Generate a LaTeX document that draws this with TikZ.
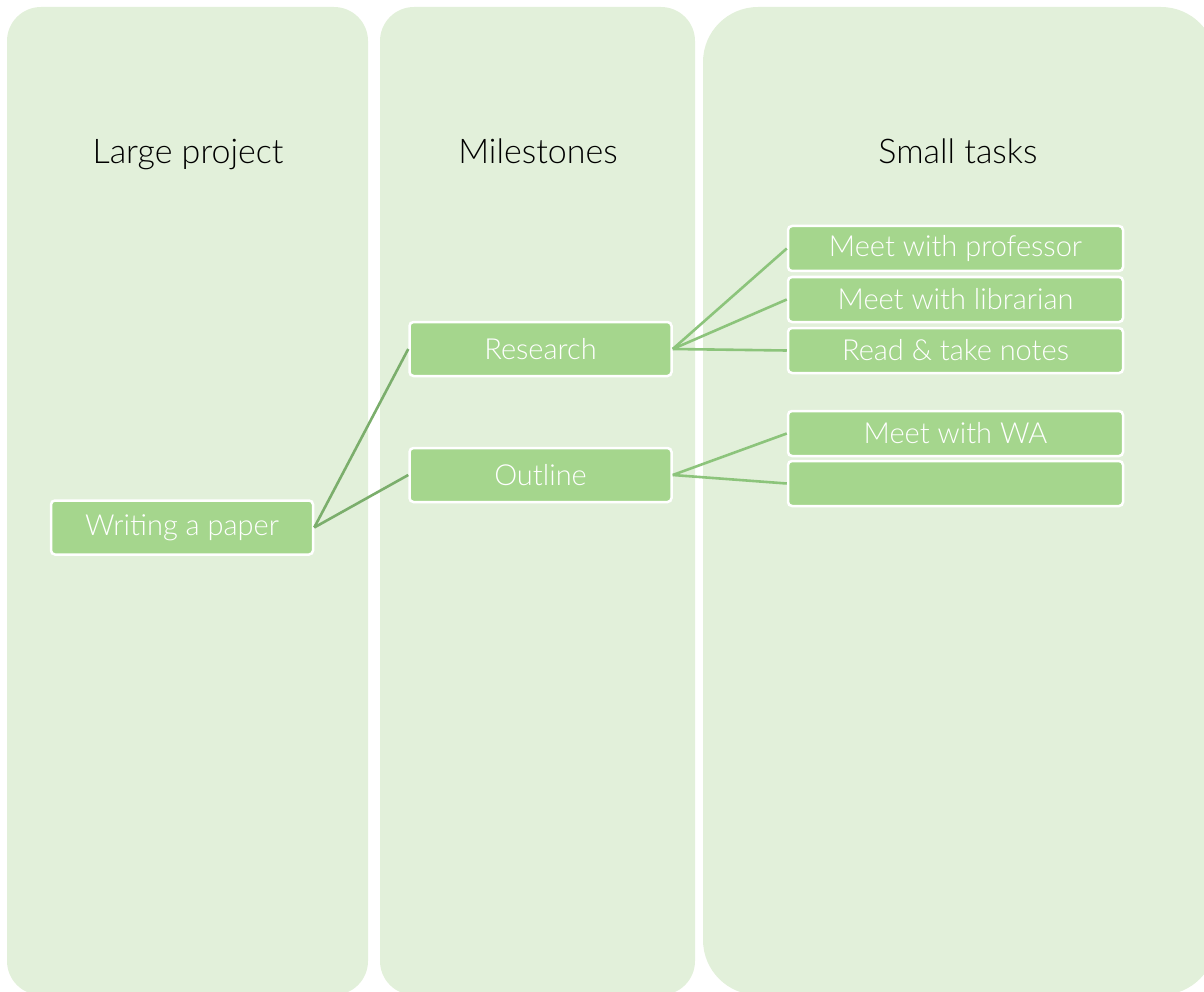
\documentclass[tikz,border=0pt]{standalone}
\usepackage{fontspec}
\setmainfont{Lato Light}
\usepackage{tikz}
\usetikzlibrary{positioning}

\definecolor{colbg}{HTML}{E2F0DA}
\definecolor{boxfill}{HTML}{A5D68D}
\definecolor{linkdark}{HTML}{7BAE6C}
\definecolor{linklight}{HTML}{8CC47B}

\begin{document}
\begin{tikzpicture}[x=1pt,y=-1pt,
  column/.style = {fill=colbg, draw=none},
  heading/.style = {font=\fontsize{34}{40}\selectfont, text=black, anchor=base},
  item/.style = {rectangle, rounded corners=4pt, draw=white, line width=2.5pt, fill=boxfill,
                 text=white, font=\fontsize{29}{34}\selectfont, inner sep=0pt},
  bigitem/.style = {item, minimum width=262pt, minimum height=54pt},
  smallitem/.style = {item, minimum width=335pt, minimum height=45pt},
  linkone/.style = {draw=linkdark, line width=2.6pt},
  linktwo/.style = {draw=linklight, line width=2.6pt}]
\useasboundingbox (0,0) rectangle (1204,992);
% three columns
\fill[column, rounded corners=34pt] (7,7) rectangle (368,995);
\fill[column, rounded corners=34pt] (380,7) rectangle (695,995);
\fill[column, rounded corners=55pt] (703,7) rectangle (1216,995);
\node[heading] (h1) at (188,164) {Large project};
\node[heading] (h2) at (538,164) {Milestones};
\node[heading] (h3) at (958,164) {Small tasks};
% boxes
\node[bigitem] (paper) at (182,527.5) {Writing a paper};
\node[bigitem] (research) at (540.5,349) {Research};
\node[bigitem] (outline) at (540.5,475) {Outline};
\node[smallitem] (prof) at (955.5,248.5) {Meet with professor};
\node[smallitem] (lib) at (955.5,299.5) {Meet with librarian};
\node[smallitem] (notes) at (955.5,350.5) {Read \& take notes};
\node[smallitem] (wa) at (955.5,433.5) {Meet with WA};
\node[smallitem] (blank) at (955.5,483.5) {};
% links
\draw[linkone] (paper.east) -- (research.west);
\draw[linkone] (paper.east) -- (outline.west);
\draw[linktwo] (research.east) -- (prof.west);
\draw[linktwo] (research.east) -- (lib.west);
\draw[linktwo] (research.east) -- (notes.west);
\draw[linktwo] (outline.east) -- (wa.west);
\draw[linktwo] (outline.east) -- (blank.west);
\end{tikzpicture}
\end{document}
